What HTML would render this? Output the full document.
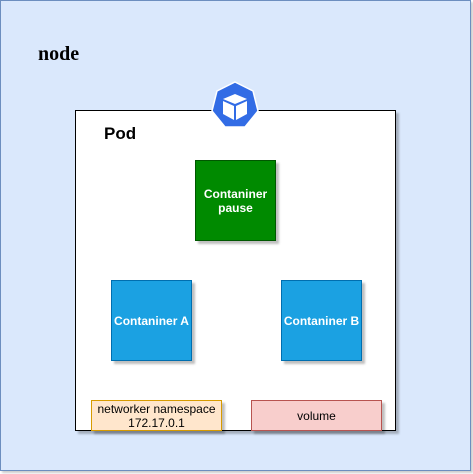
<!DOCTYPE html>
<html><head><style>
body{margin:0;width:473px;height:474px;position:relative;font-family:"Liberation Sans",sans-serif;overflow:hidden;background:#fff}
.a{position:absolute;box-sizing:border-box;display:flex;align-items:center;justify-content:center;text-align:center;font-size:12px}
</style></head><body>
<div class="a" style="left:0;top:0;width:471px;height:471px;background:#dae8fc;border:1px solid #6c8ebf;box-shadow:2px 2px 2px rgba(0,0,0,0.2)"></div>
<div class="a" style="left:38px;top:43px;font-family:'Liberation Serif',serif;font-weight:bold;font-size:20px">node</div>
<div class="a" style="left:75px;top:110px;width:321px;height:321px;background:#fff;border:1px solid #000;box-shadow:3px 3px 2px rgba(0,0,0,0.25)"></div>
<div class="a" style="left:104px;top:124px;font-weight:bold;font-size:17px">Pod</div>
<div class="a" style="left:195px;top:160px;width:81px;height:81px;background:#008a00;border:1px solid #005700;color:#fff;font-weight:bold;box-shadow:3px 3px 2px rgba(0,0,0,0.25)">Contaniner<br>pause</div>
<div class="a" style="left:111px;top:280px;width:81px;height:81px;background:#1ba1e2;border:1px solid #006eaf;color:#fff;font-weight:bold;box-shadow:3px 3px 2px rgba(0,0,0,0.25)">Contaniner A</div>
<div class="a" style="left:281px;top:280px;width:81px;height:81px;background:#1ba1e2;border:1px solid #006eaf;color:#fff;font-weight:bold;box-shadow:3px 3px 2px rgba(0,0,0,0.25)">Contaniner B</div>
<div class="a" style="left:91px;top:400px;width:131px;height:31px;background:#ffe6cc;border:1px solid #d79b00;line-height:14px;box-shadow:3px 3px 2px rgba(0,0,0,0.25)">networker namespace<br>172.17.0.1</div>
<div class="a" style="left:251px;top:400px;width:131px;height:31px;background:#f8cecc;border:1px solid #b85450;box-shadow:3px 3px 2px rgba(0,0,0,0.25)">volume</div>
<svg style="position:absolute;left:0;top:0" width="473" height="474">
<polygon points="235,82 253,91 258,111 245,127 225,127 212,111 217,91" fill="#326ce5" stroke="#fff" stroke-width="1.5"/>
<polygon points="235,94 247,99 235,104 223,99" fill="#fff"/>
<polygon points="223,101 234,106 234,120 223,114" fill="#fff"/>
<polygon points="247,101 236,106 236,120 247,114" fill="#fff"/>
</svg>
</body></html>
